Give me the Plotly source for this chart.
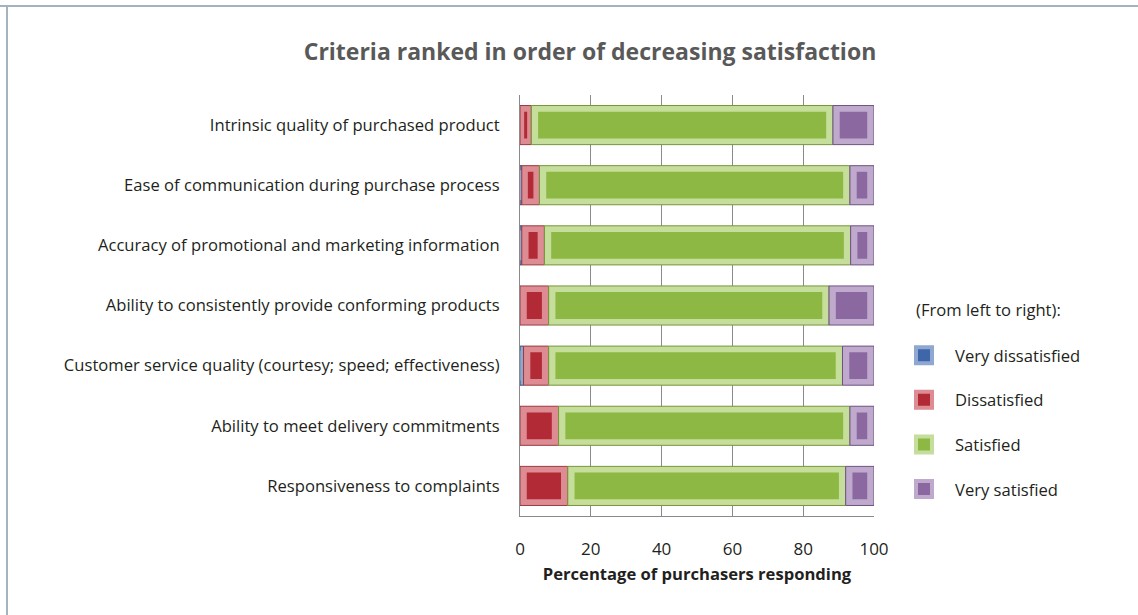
import plotly.graph_objects as go

# Survey criteria, listed top to bottom
criteria = [
    "Intrinsic quality of purchased product",
    "Ease of communication during purchase process",
    "Accuracy of promotional and marketing information",
    "Ability to consistently provide conforming products",
    "Customer service quality (courtesy; speed; effectiveness)",
    "Ability to meet delivery commitments",
    "Responsiveness to complaints",
]

# Percentage of purchasers in each response class
very_dissatisfied = [0.0, 0.5, 0.5, 0.0, 1.0, 0.0, 0.0]
dissatisfied = [3.2, 5.0, 6.4, 8.1, 7.1, 10.9, 13.5]
satisfied = [85.2, 87.7, 86.5, 79.2, 83.0, 82.3, 78.5]
very_satisfied = [11.6, 6.8, 6.6, 12.7, 8.9, 6.8, 8.0]

series_names = ["Very dissatisfied", "Dissatisfied", "Satisfied", "Very satisfied"]
series_values = [very_dissatisfied, dissatisfied, satisfied, very_satisfied]

# (inner face, bevel frame, edge line)
palette = [
    ("#3F66A8", "#8FA8D2", "#2D4D85"),
    ("#B22A35", "#DC8C92", "#9B3A40"),
    ("#8DB843", "#C6DE9B", "#76963A"),
    ("#8C68A0", "#BFAACD", "#6E5282"),
]

FONT = "Open Sans"
TEXT = "#231F20"
BAR_W = 0.65
INNER_W = 0.47
BEVEL = 1.7  # horizontal bevel, in axis units

# plot area in pixels (for the frame lines drawn in paper coordinates)
PL, PR, PT, PB = 520, 874, 95, 516
PW, PH = PR - PL, PB - PT

fig = go.Figure()

starts = [0.0] * len(criteria)
for name, vals, (face, frame, edge) in zip(series_names, series_values, palette):
    base = list(starts)
    # bevel frame (full segment)
    fig.add_trace(go.Bar(
        y=criteria, x=vals, base=base, orientation="h", width=BAR_W,
        marker=dict(color=frame, line=dict(color=edge, width=1)),
        showlegend=False, hoverinfo="skip",
    ))
    # inner face, inset from the frame
    inset = [min(BEVEL, v * 0.3) for v in vals]
    fig.add_trace(go.Bar(
        y=criteria, x=[v - 2 * i for v, i in zip(vals, inset)],
        base=[b + i for b, i in zip(base, inset)],
        orientation="h", width=INNER_W, name=name, showlegend=False,
        marker=dict(color=face, line=dict(color=frame, width=1.5)),
        customdata=vals, hovertemplate="%{y}<br>" + name + ": %{customdata}%<extra></extra>",
    ))
    starts = [s + v for s, v in zip(starts, vals)]

# legend swatches: bevelled squares
for name, (face, frame, edge) in zip(series_names, palette):
    fig.add_trace(go.Scatter(
        x=[None], y=[None], mode="markers", name=name, legendgroup=name,
        marker=dict(symbol="square", size=16, color=face,
                    line=dict(color=frame, width=4)),
    ))

fig.update_layout(
    width=1138, height=615,
    barmode="overlay",
    paper_bgcolor="white", plot_bgcolor="white",
    margin=dict(l=PL, r=1138 - PR, t=PT, b=615 - PB, autoexpand=False),
    font=dict(family=FONT, size=16.6, color=TEXT),
    title=dict(
        text="<b>Criteria ranked in order of decreasing satisfaction</b>",
        x=590 / 1138, xref="container", xanchor="center",
        y=1 - 52 / 615, yref="container", yanchor="middle",
        font=dict(family=FONT, size=23, color="#595959"),
    ),
    xaxis=dict(
        range=[0, 100], tickvals=[0, 20, 40, 60, 80, 100],
        showgrid=True, gridcolor="#8A8A8A", gridwidth=1,
        showline=True, linecolor="#8A8A8A", linewidth=1,
        zeroline=False, ticks="", ticklabelstandoff=18,
        tickfont=dict(size=17, color=TEXT),
        title=dict(text="<b>Percentage of purchasers responding</b>",
                   font=dict(size=16.6, color=TEXT), standoff=8),
        fixedrange=True,
    ),
    yaxis=dict(
        categoryorder="array", categoryarray=criteria, autorange="reversed",
        showline=True, linecolor="#8A8A8A", linewidth=1,
        showgrid=False, ticks="", ticklabelstandoff=16,
        tickfont=dict(size=16.6, color=TEXT),
        fixedrange=True,
    ),
    legend=dict(
        x=893 / 1138, xref="container", xanchor="left",
        y=1 - 338 / 615, yref="container", yanchor="top",
        font=dict(size=16.6, color=TEXT),
        traceorder="grouped", tracegroupgap=20,
        itemwidth=52, bgcolor="rgba(0,0,0,0)",
    ),
    annotations=[
        dict(text="(From left to right):", xref="paper", yref="paper",
             x=(914 - PL) / PW, y=(PB - 309) / PH, xanchor="left", yanchor="middle",
             showarrow=False, font=dict(size=16.6, color=TEXT)),
    ],
    shapes=[
        dict(type="line", xref="paper", yref="paper",
             x0=-PL / PW, x1=(1138 - PL) / PW,
             y0=(PB - 6) / PH, y1=(PB - 6) / PH,
             line=dict(color="#A3B3BF", width=2)),
        dict(type="line", xref="paper", yref="paper",
             x0=(7 - PL) / PW, x1=(7 - PL) / PW,
             y0=(PB - 615) / PH, y1=(PB - 6) / PH,
             line=dict(color="#A3B3BF", width=2)),
    ],
)

fig.write_html("out.html")
